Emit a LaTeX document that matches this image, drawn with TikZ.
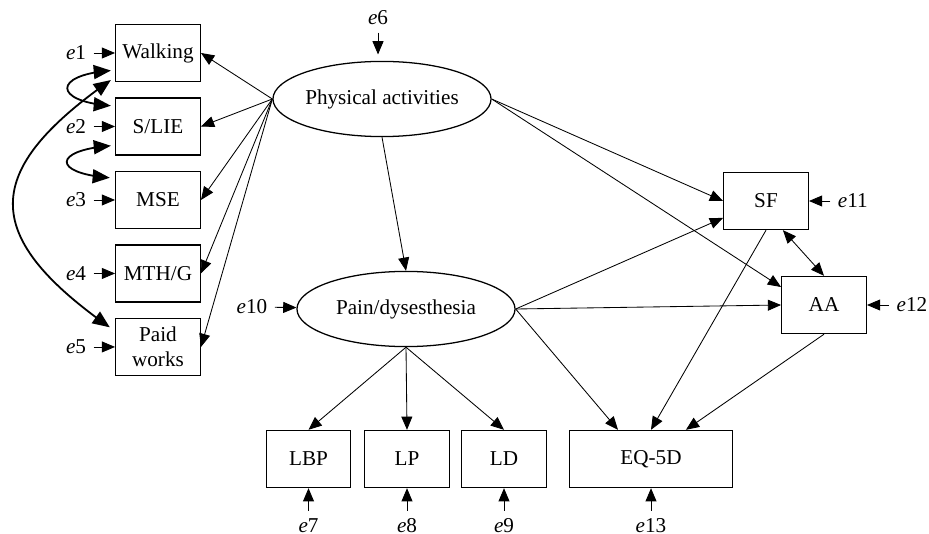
\documentclass[tikz,border=0pt]{standalone}
\usepackage{fontspec}
\setmainfont{Liberation Serif}
\usetikzlibrary{arrows,shapes,positioning}
\tikzset{arrows={-triangle 45}}
\tikzset{
  obs/.style={rectangle, draw, line width=0.6pt, minimum width=40pt, minimum height=27pt, inner sep=1pt, align=center},
  latent/.style={ellipse, draw, line width=0.6pt, minimum width=103pt, minimum height=35.5pt, inner sep=0pt},
  cov/.style={line width=0.85pt, triangle 45-triangle 45}
}
\newcommand\erv[1]{\textit{e}#1}

\begin{document}
\begin{tikzpicture}[x=0.0166cm, y=-0.0166cm, node distance=1.22cm]
    \useasboundingbox (0,0) rectangle (929,534);
    \node[latent] (phys) at (382,99) {Physical activities};
    \node[latent] (pain) at (406,309) {Pain/dysesthesia};
    \node[obs] (walk) at (158,53) {Walking};
    \node[obs] (slie) [below of=walk] {S/LIE};
    \node[obs] (mse) [below of=slie] {MSE};
    \node[obs] (mth) [below of=mse] {MTH/G};
    \node[obs] (paid) [below of=mth] {Paid\\works};
    \node[obs] (sf) at (766,201) {SF};
    \node[obs] (aa) at (824,305) {AA};
    \node[obs, minimum width=77pt] (eq) at (651,459) {EQ-5D};
    \node[obs] (lbp) at (308.5,459) {LBP};
    \node[obs] (lp) at (407,459) {LP};
    \node[obs] (ld) at (504,459) {LD};
    % error terms
    \node (e1) [left of=walk, node distance=1.36cm] {\erv{1}};
    \node (e2) [left of=slie, node distance=1.36cm] {\erv{2}};
    \node (e3) [left of=mse, node distance=1.36cm] {\erv{3}};
    \node (e4) [left of=mth, node distance=1.36cm] {\erv{4}};
    \node (e5) [left of=paid, node distance=1.36cm] {\erv{5}};
    \node (e6) at (378,18) {\erv{6}};
    \node (e7) [below of=lbp, node distance=1.1cm] {\erv{7}};
    \node (e8) [below of=lp, node distance=1.1cm] {\erv{8}};
    \node (e9) [below of=ld, node distance=1.1cm] {\erv{9}};
    \node (e10) at (252,307) {\erv{10}};
    \node (e11) [right of=sf, node distance=1.44cm] {\erv{11}};
    \node (e12) [right of=aa, node distance=1.46cm] {\erv{12}};
    \node (e13) [below of=eq, node distance=1.1cm] {\erv{13}};
    \path (e1) edge (walk) (e2) edge (slie) (e3) edge (mse)
          (e4) edge (mth) (e5) edge (paid)
          (e7) edge (lbp) (e8) edge (lp) (e9) edge (ld)
          (e10) edge (pain) (e11) edge (sf) (e12) edge (aa) (e13) edge (eq);
    \draw[shorten >=3pt] (e6) -- (e6 |- phys.north);
    % loadings
    \path (phys.west) edge (walk.east) edge (slie.east) edge (mse.east)
                      edge (mth.east) edge (paid.east);
    \path (pain.south) edge (lbp.north) edge (lp.north) edge (ld.north);
    % structural paths
    \path (phys.south) edge (pain.north);
    \path (phys.east) edge (sf.west) edge ([yshift=8.5pt]aa.west);
    \path (pain.east) edge ([yshift=-8pt]sf.west) edge (aa.west)
                      edge ([xshift=-15.6pt]eq.north);
    \path (sf.south) edge (eq.north);
    \path (aa.south) edge ([xshift=16.5pt]eq.north);
    \draw[triangle 45-triangle 45] ([xshift=8pt]sf.south) -- (aa.north);
    % correlated errors
    \draw[cov] ([xshift=-2pt,yshift=5.5pt]walk.south west) .. controls +(-57,5) and +(-57,-5) .. ([xshift=-2pt,yshift=-4pt]slie.north west);
    \draw[cov] ([xshift=-2pt,yshift=4.7pt]slie.south west) .. controls +(-57,5) and +(-57,-5) .. ([xshift=-2.5pt,yshift=-3.3pt]mse.north west);
    \draw[cov] ([xshift=-2pt,yshift=1pt]walk.south west) .. controls +(-127,90) and +(-131,-93) .. ([xshift=-2.5pt,yshift=-4.5pt]paid.north west);
\end{tikzpicture}
\end{document}
